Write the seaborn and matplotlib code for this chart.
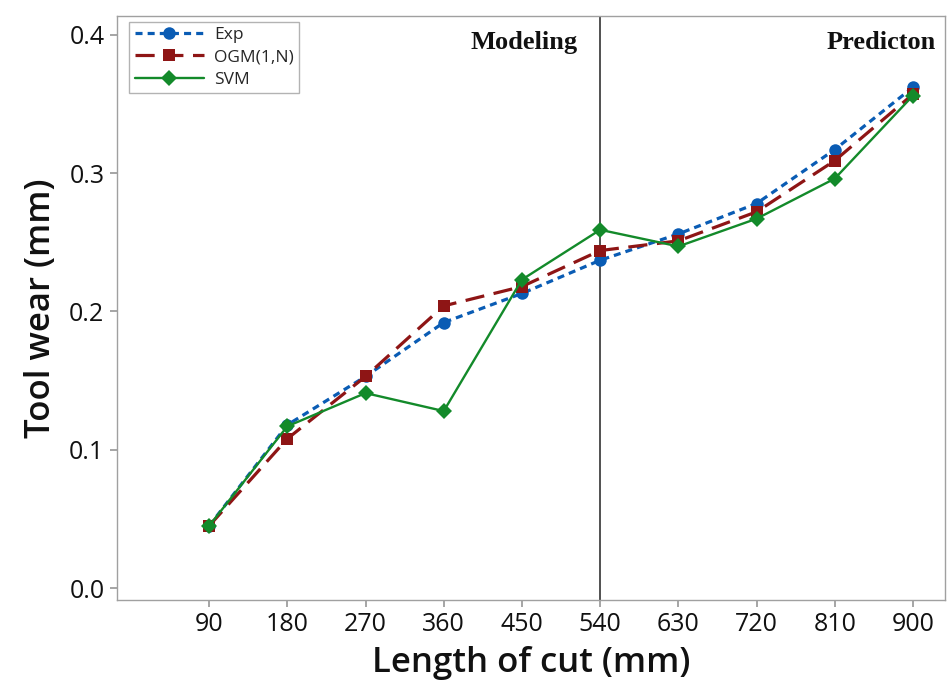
import matplotlib
matplotlib.use("Agg")
import matplotlib.pyplot as plt
import seaborn as sns
import pandas as pd
from matplotlib.ticker import FormatStrFormatter

# Length of cut (mm) and tool wear (mm) for each series
length_of_cut = [90, 180, 270, 360, 450, 540, 630, 720, 810, 900]
exp_wear = [0.045, 0.118, 0.153, 0.192, 0.213, 0.237, 0.256, 0.278, 0.317, 0.362]
ogm_wear = [0.045, 0.108, 0.153, 0.204, 0.218, 0.244, 0.251, 0.272, 0.309, 0.357]
svm_wear = [0.045, 0.117, 0.141, 0.128, 0.223, 0.259, 0.247, 0.267, 0.296, 0.356]
y_ticks = [0.0, 0.1, 0.2, 0.3, 0.4]
split_at = 540

sns.set_theme(style="white")
plt.rcParams["font.family"] = ["Open Sans", "DejaVu Sans"]

fig = plt.figure(figsize=(9.48, 6.81), dpi=100)
ax = fig.add_axes([0.1234, 0.119, 0.8736, 0.8575])

df = pd.DataFrame({"x": length_of_cut, "Exp": exp_wear,
                   "OGM(1,N)": ogm_wear, "SVM": svm_wear})

sns.lineplot(data=df, x="x", y="Exp", ax=ax, color="#0a5cb4",
             linestyle=(0, (2.2, 1.6)), linewidth=2.3, marker="o",
             markersize=9, markeredgewidth=0, label="Exp")
sns.lineplot(data=df, x="x", y="OGM(1,N)", ax=ax, color="#8e1515",
             linestyle=(0, (6, 3)), linewidth=2.3, marker="s",
             markersize=9, markeredgewidth=0, label="OGM(1,N)")
sns.lineplot(data=df, x="x", y="SVM", ax=ax, color="#138a2a",
             linestyle="-", linewidth=1.7, marker="D",
             markersize=8, markeredgewidth=0, label="SVM")

ax.axvline(split_at, color="#222222", linewidth=1.1, zorder=0)

ax.set_xlim(-16, 937)
ax.set_ylim(-0.0085, 0.4135)
ax.set_xticks(length_of_cut)
ax.set_yticks(y_ticks)
ax.yaxis.set_major_formatter(FormatStrFormatter("%.1f"))
ax.tick_params(axis="both", which="major", labelsize=18, length=5,
               color="#9a9a9a", direction="out", bottom=True, left=True,
               labelcolor="#111111", pad=4)
for s in ax.spines.values():
    s.set_color("#a0a0a0")
    s.set_linewidth(1.0)

ax.set_xlabel("Length of cut (mm)", fontsize=25, fontweight="semibold",
              color="#111111", labelpad=6)
ax.set_ylabel("Tool wear (mm)", fontsize=25, fontweight="semibold",
              color="#111111", labelpad=8)

ax.text(514, 0.3945, "Modeling", family="Liberation Serif", fontweight="bold",
        fontsize=19, ha="right", va="center", color="#111111")
ax.text(926, 0.3945, "Predicton", family="Liberation Serif", fontweight="bold",
        fontsize=19, ha="right", va="center", color="#111111")

leg = ax.legend(loc="upper left", bbox_to_anchor=(0.015, 0.99), fontsize=12.5,
                frameon=True, fancybox=False, edgecolor="#a0a0a0",
                handlelength=4.0, borderpad=0.3, labelspacing=0.35,
                handletextpad=0.6, borderaxespad=0.0)
leg.get_frame().set_linewidth(1.0)

fig.savefig("out.png", dpi=100)
